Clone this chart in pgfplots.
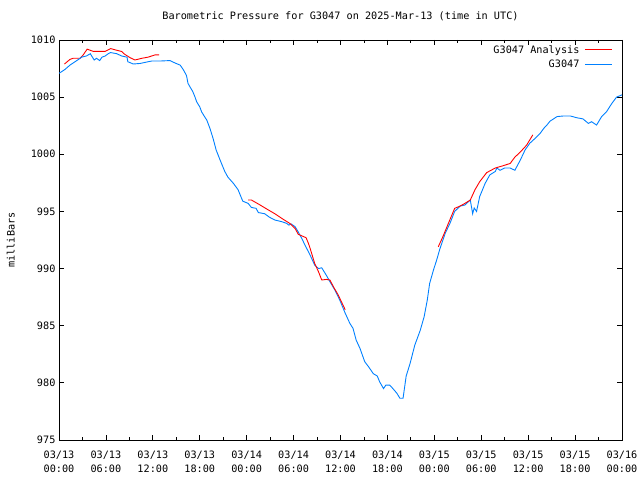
\documentclass[border=0pt]{standalone}
\usepackage{pgfplots}
\pgfplotsset{compat=1.18}
\usepackage{fontspec}
\setmainfont{DejaVu Sans Mono}
\definecolor{gpred}{RGB}{255,0,0}
\definecolor{gpblue}{RGB}{0,128,255}
\begin{document}
\begin{tikzpicture}
\fontsize{10.2}{12}\selectfont
\path[use as bounding box] (0,0) rectangle (640pt,480pt);
\begin{axis}[
  at={(59pt,40pt)}, anchor=south west,
  scale only axis, width=563pt, height=400pt,
  xmin=0, xmax=72, ymin=975, ymax=1010,
  xtick={0,6,...,72},
  xticklabels={{03/13\\00:00},{03/13\\06:00},{03/13\\12:00},{03/13\\18:00},{03/14\\00:00},{03/14\\06:00},{03/14\\12:00},{03/14\\18:00},{03/15\\00:00},{03/15\\06:00},{03/15\\12:00},{03/15\\18:00},{03/16\\00:00}},
  x tick label style={align=center, font=\fontsize{10.2}{14}\selectfont, yshift=-7pt},
  minor x tick num=1,
  ytick={975,980,...,1010},
  y tick label style={font=\fontsize{10.2}{12}\selectfont},
  /pgf/number format/assume math mode=true,
  /pgf/number format/1000 sep={},
  major tick length=5pt, minor tick length=3pt,
  tick style={black, line width=0.8pt},
  tick align=inside,
  axis line style={line width=0.8pt},
  title={Barometric Pressure for G3047 on 2025-Mar-13 (time in UTC)},
  title style={font=\fontsize{10.2}{12}\selectfont, at={(0.5,1)}, yshift=10pt, anchor=south},
  ylabel={milliBars},
  ylabel style={font=\fontsize{10.2}{12}\selectfont, at={(ticklabel cs:0.5)}, yshift=9pt},
  legend style={draw=none, fill=none, at={(0.985,0.995)}, anchor=north east, font=\fontsize{10.2}{12}\selectfont, row sep=1pt, inner sep=1pt, nodes={inner xsep=5pt}},
  legend cell align=right,
  legend plot pos=right,
  legend image code/.code={\draw[#1] (0pt,0pt) -- (27pt,0pt);},
]
\addplot[gpred, line width=0.9pt] coordinates {
(0.7,1007.9)(1.4,1008.3)(1.8,1008.4)(2.7,1008.4)(3.1,1008.7)(3.6,1009.2)(4.4,1009.0)(5.9,1009.0)(6.6,1009.25)(7.4,1009.1)(8.0,1009.0)(8.4,1008.75)(9.1,1008.45)(9.7,1008.25)(10.6,1008.4)(11.4,1008.5)(12.3,1008.7)(12.8,1008.7)
};
\addlegendentry{G3047 Analysis}
\addplot[gpblue, line width=0.9pt] coordinates {
(0,1007.08)(0.77,1007.43)(1.4,1007.8)(2.05,1008.1)(2.5,1008.3)(2.9,1008.5)(3.5,1008.6)(4.0,1008.8)(4.5,1008.25)(4.8,1008.4)(5.2,1008.2)(5.5,1008.5)(5.9,1008.6)(6.3,1008.8)(6.6,1008.9)(7.4,1008.8)(8.0,1008.6)(8.7,1008.5)(8.8,1008.1)(9.5,1007.9)(10.4,1007.95)(11.2,1008.07)(11.85,1008.16)(12.9,1008.16)(14.2,1008.2)(14.8,1008.0)(15.5,1007.8)(15.9,1007.4)(16.3,1006.9)(16.5,1006.2)(16.75,1005.9)(17.1,1005.5)(17.4,1005.0)(17.6,1004.6)(18.0,1004.15)(18.25,1003.7)(18.7,1003.2)(18.9,1003.0)(19.3,1002.27)(19.7,1001.4)(20.1,1000.37)(20.6,999.5)(21.2,998.5)(21.6,998.0)(22.3,997.46)(22.9,996.9)(23.5,995.9)(24.2,995.7)(24.6,995.35)(25.2,995.27)(25.5,994.9)(26.3,994.8)(26.9,994.5)(27.6,994.25)(28.5,994.1)(29.1,993.96)(29.4,993.8)(29.7,993.9)(30.2,993.66)(30.6,993.2)(31.0,992.7)(31.5,992.0)(32.1,991.2)(32.7,990.3)(33.2,990.0)(33.6,990.07)(34.2,989.4)(34.65,988.85)(35.3,988.1)(35.9,987.25)(36.6,986.1)(37.2,985.2)(37.6,984.77)(38.0,983.75)(38.5,983.0)(39.1,981.85)(39.6,981.4)(40.2,980.8)(40.7,980.6)(41.0,980.1)(41.5,979.5)(41.8,979.8)(42.3,979.8)(42.7,979.5)(43.2,979.1)(43.6,978.65)(44.0,978.65)(44.4,980.6)(44.9,981.7)(45.5,983.3)(46.2,984.6)(46.7,985.8)(47.1,987.25)(47.4,988.7)(47.9,989.9)(48.3,990.75)(48.7,991.7)(49.4,993.1)(50.0,993.96)(50.6,995.0)(51.3,995.47)(51.9,995.56)(52.6,996.0)(52.9,994.8)(53.1,995.3)(53.4,995.0)(53.8,996.3)(54.5,997.46)(55.1,998.2)(55.8,998.5)(56.0,998.8)(56.4,998.6)(57.0,998.8)(57.7,998.8)(58.3,998.6)(59.0,999.5)(59.6,1000.37)(60.2,1000.96)(60.9,1001.4)(61.5,1001.8)(62.0,1002.27)(62.4,1002.56)(62.8,1002.9)(63.7,1003.3)(64.5,1003.35)(65.4,1003.35)(66.2,1003.2)(67.0,1003.1)(67.7,1002.7)(68.1,1002.85)(68.75,1002.56)(69.4,1003.3)(70.0,1003.7)(70.7,1004.45)(71.3,1005.0)(72.0,1005.2)
};
\addlegendentry{G3047}
\addplot[gpred, line width=0.9pt, forget plot] coordinates {
(24.2,996.0)(24.6,996.0)(25.5,995.65)(26.6,995.2)(27.6,994.8)(28.7,994.3)(29.5,993.96)(30.2,993.5)(30.6,993.0)(31.6,992.7)(31.9,992.2)(32.1,991.8)(32.7,990.45)(33.2,989.7)(33.6,989.0)(34.2,989.05)(34.65,989.0)(35.1,988.4)(35.7,987.7)(36.6,986.4)
};
\addplot[gpred, line width=0.9pt, forget plot] coordinates {
(48.5,991.9)(49.1,992.8)(49.8,993.96)(50.6,995.27)(51.3,995.47)(51.9,995.7)(52.6,996.0)(53.2,996.9)(53.8,997.6)(54.7,998.4)(55.8,998.8)(56.8,999.0)(57.7,999.2)(58.3,999.75)(59.0,1000.2)(59.8,1000.8)(60.6,1001.7)
};
\end{axis}
\end{tikzpicture}
\end{document}
